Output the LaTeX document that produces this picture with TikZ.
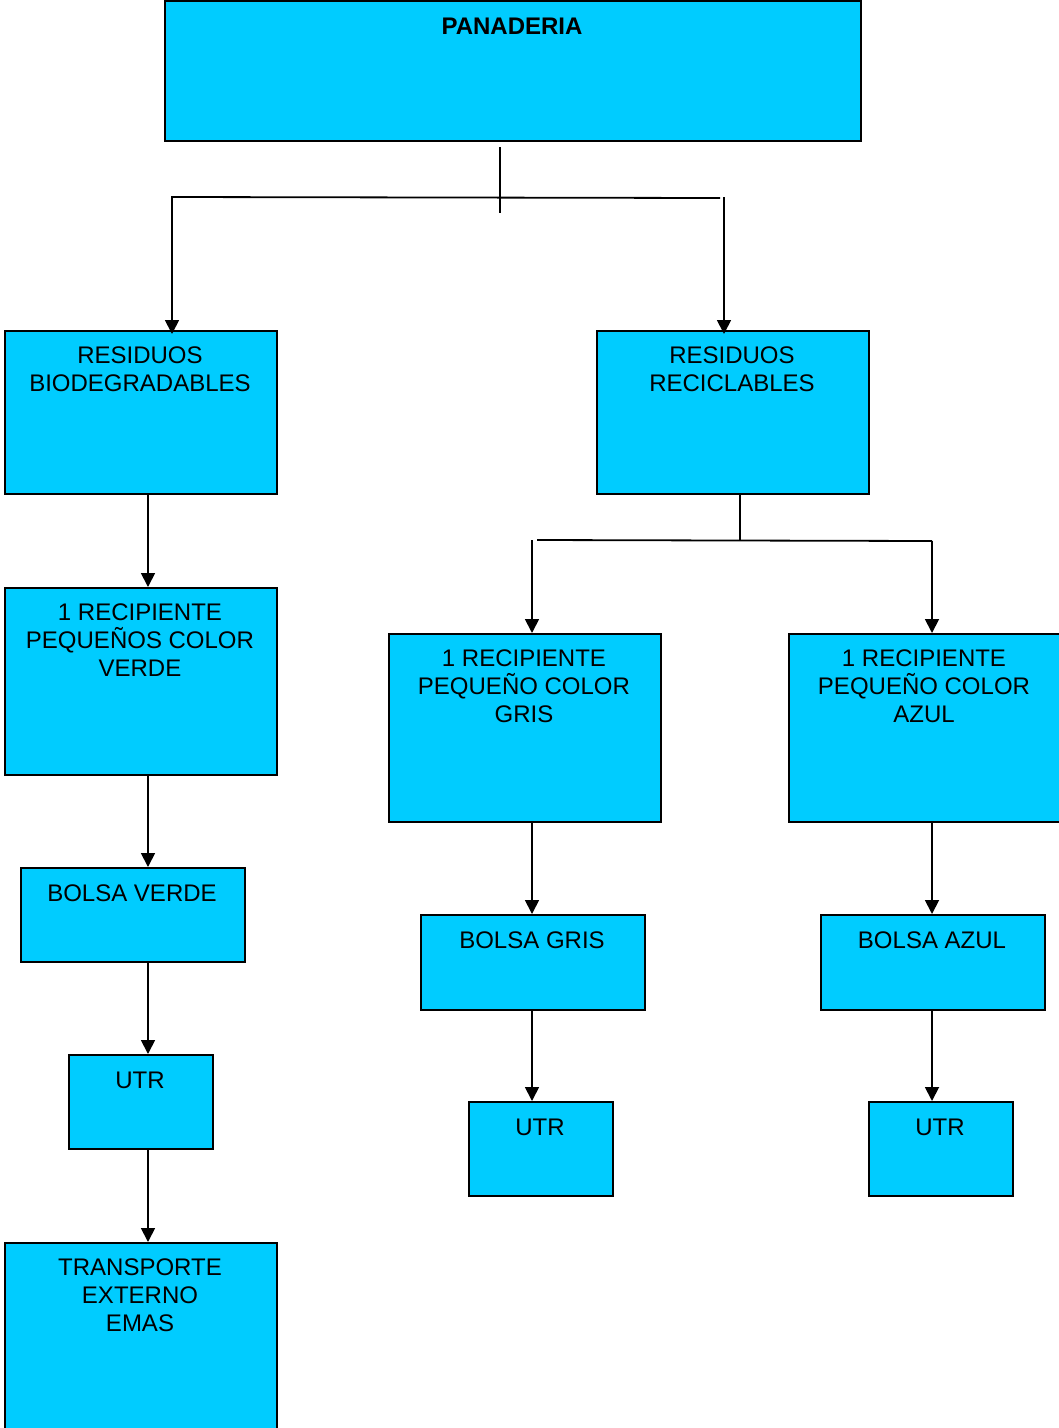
\documentclass[tikz,border=0pt]{standalone}
\usepackage{fontspec}
\setmainfont{Liberation Sans}
\usetikzlibrary{arrows.meta,calc}
\definecolor{boxblue}{HTML}{00CCFF}
\tikzset{
  box/.style={draw=black, fill=boxblue, line width=1.8pt, inner sep=0pt, anchor=north west},
  txt/.style={align=center, inner sep=0pt, anchor=base, font=\fontsize{24}{28}\selectfont},
  conn/.style={line width=1.8pt, draw=black},
  arr/.style={conn, -{Triangle[width=14pt,length=14pt]}},
}
\begin{document}
\begin{tikzpicture}[x=1pt,y=-1pt]
\useasboundingbox (0,0) rectangle (1059,1428);
\clip (0,0) rectangle (1059,1428);
% boxes
\node[box, minimum width=696pt, minimum height=140pt] (pan) at (164,0) {};
\node[box, minimum width=272pt, minimum height=163pt] (bio) at (4,330) {};
\node[box, minimum width=272pt, minimum height=163pt] (rec) at (596,330) {};
\node[box, minimum width=272pt, minimum height=187pt] (verde) at (4,587) {};
\node[box, minimum width=224pt, minimum height=94pt] (bverde) at (20,867) {};
\node[box, minimum width=144pt, minimum height=94pt] (utr1) at (68,1054) {};
\node[box, minimum width=272pt, minimum height=220pt] (trans) at (4,1242) {};
\node[box, minimum width=272pt, minimum height=188pt] (gris) at (388,633) {};
\node[box, minimum width=272pt, minimum height=188pt] (azul) at (788,633) {};
\node[box, minimum width=224pt, minimum height=95pt] (bgris) at (420,914) {};
\node[box, minimum width=144pt, minimum height=94pt] (utr2) at (468,1101) {};
\node[box, minimum width=224pt, minimum height=95pt] (bazul) at (820,914) {};
\node[box, minimum width=144pt, minimum height=94pt] (utr3) at (868,1101) {};
% texts (anchor base = baseline of last line)
\node[txt, font=\bfseries\fontsize{24}{28}\selectfont] (tpan) at (512,34.5) {PANADERIA};
\node[txt] (tbio) at (140,391.5) {RESIDUOS\\BIODEGRADABLES};
\node[txt] (trec) at (732,391.5) {RESIDUOS\\RECICLABLES};
\node[txt] (tverde) at (140,676.5) {1 RECIPIENTE\\PEQUEÑOS COLOR\\VERDE};
\node[txt] (tbverde) at (132,901.5) {BOLSA VERDE};
\node[txt] (tutr1) at (140,1088.5) {UTR};
\node[txt] (ttrans) at (140,1331.5) {TRANSPORTE\\EXTERNO\\EMAS};
\node[txt] (tgris) at (524,722.5) {1 RECIPIENTE\\PEQUEÑO COLOR\\GRIS};
\node[txt] (tazul) at (924,722.5) {1 RECIPIENTE\\PEQUEÑO COLOR\\AZUL};
\node[txt] (tbgris) at (532,948.5) {BOLSA GRIS};
\node[txt] (tutr2) at (540,1135.5) {UTR};
\node[txt] (tbazul) at (932,948.5) {BOLSA AZUL};
\node[txt] (tutr3) at (940,1135.5) {UTR};
% junction coordinates
\coordinate (ptop) at (500,147);
\coordinate (pbot) at (500,213);
\coordinate (jl) at (172,197);
\coordinate (jr) at (720,198);
\coordinate (jrr) at (724,197);
\coordinate (rmid) at (740,541);
\coordinate (rl) at (537,540);
\coordinate (rl2) at (532,540);
\coordinate (rr) at (932,541);
% top connectors
\draw[conn] (ptop) -- (pbot);
\draw[arr] (jr) -- (jl) -- ([yshift=-4pt]jl |- bio.north);
\draw[arr] (jrr) -- ([yshift=-4pt]jrr |- rec.north);
% left chain
\draw[arr] (bio.south -| 148,0) -- (verde.north -| 148,0);
\draw[arr] (verde.south -| 148,0) -- (bverde.north -| 148,0);
\draw[arr] (bverde.south -| 148,0) -- (utr1.north -| 148,0);
\draw[arr] (utr1.south -| 148,0) -- (trans.north -| 148,0);
% right split
\draw[conn] (rec.south -| rmid) -- (rmid);
\draw[conn] (rl) -- (rr);
\draw[arr] (rl2) -- (rl2 |- gris.north);
\draw[arr] (rr) -- (rr |- azul.north);
% gris chain
\draw[arr] (gris.south -| 532,0) -- (bgris.north -| 532,0);
\draw[arr] (bgris.south -| 532,0) -- (utr2.north -| 532,0);
% azul chain
\draw[arr] (azul.south -| 932,0) -- (bazul.north -| 932,0);
\draw[arr] (bazul.south -| 932,0) -- (utr3.north -| 932,0);
\end{tikzpicture}
\end{document}
